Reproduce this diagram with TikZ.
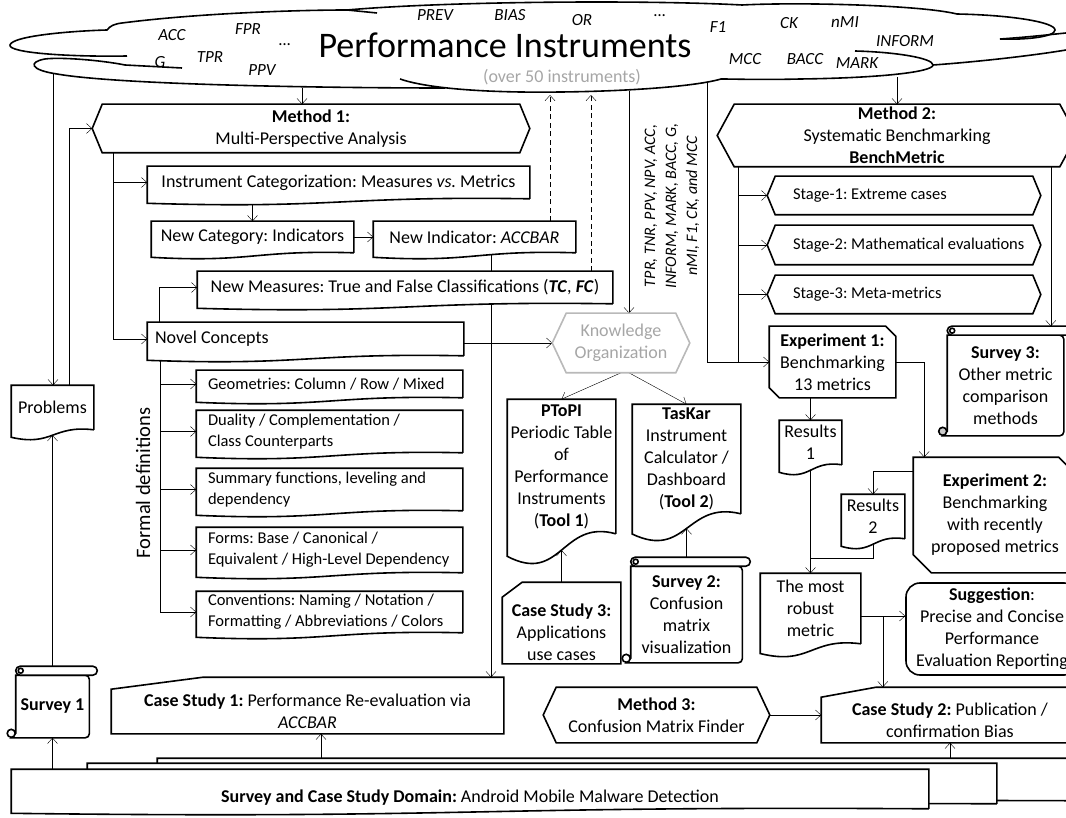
\documentclass[tikz,border=0pt]{standalone}
\usepackage{fontspec}
\setmainfont{Carlito}
\usetikzlibrary{arrows.meta,calc,backgrounds}
\frenchspacing
\newcommand{\bodyfont}{\fontsize{18}{22}\selectfont}
\newcommand{\smallfont}{\fontsize{16.5}{21}\selectfont}
\newcommand{\wordfont}{\fontsize{17}{20}\selectfont\itshape}
\newcommand{\titlefont}{\fontsize{36}{40}\selectfont}

\begin{document}
\begin{tikzpicture}[x=1pt, y=-1pt, line width=1.6pt,
    >={Straight Barb[length=5.5pt,width=10pt]},
    arrow/.style={->},
    dasharrow/.style={->, dash pattern=on 5pt off 3.5pt},
    box/.style={inner sep=0pt, align=center, font=\bodyfont},
    cloudword/.style={inner sep=0pt, font=\wordfont},
    docbox/.style={box, append after command={\pgfextra{%
      \draw[fill=white] (\tikzlastnode.south east) -- (\tikzlastnode.north east)
        -- (\tikzlastnode.north west) -- ([yshift={-0.75*#1*1pt}]\tikzlastnode.south west)
        .. controls ($(\tikzlastnode.south west)!0.5!(\tikzlastnode.south east)+(0,{1.7*#1})$)
        and ($(\tikzlastnode.south west)!0.5!(\tikzlastnode.south east)+(0,{-0.5*#1})$)
        .. (\tikzlastnode.south east);}}},
    hexbox/.style 2 args={box, append after command={\pgfextra{%
      \draw[#2, fill=white] (\tikzlastnode.west) -- ([xshift={#1*1pt}]\tikzlastnode.north west)
        -- ([xshift={-#1*1pt}]\tikzlastnode.north east) -- (\tikzlastnode.east)
        -- ([xshift={-#1*1pt}]\tikzlastnode.south east) -- ([xshift={#1*1pt}]\tikzlastnode.south west)
        -- cycle;}}},
    stagebox/.style={hexbox={8}{black}, font=\smallfont, text width=222pt, align=flush left},
    formbox/.style={docbox=6, font=\smallfont, minimum width=265, text width=243pt, align=flush left},
    cardbox/.style={box, append after command={\pgfextra{%
      \draw[fill=white] (\tikzlastnode.north west) -- ([xshift={-#1*1pt}]\tikzlastnode.north east)
        -- ([yshift={-#1*1pt}]\tikzlastnode.north east) -- (\tikzlastnode.south east)
        -- ([xshift={#1*1pt}]\tikzlastnode.south west) -- ([yshift={#1*1pt}]\tikzlastnode.south west)
        -- cycle;}}},
    casebox/.style={box, append after command={\pgfextra{%
      \draw[fill=white] (\tikzlastnode.south west) -- ([yshift=3pt]\tikzlastnode.north west)
        -- ([xshift=20pt,yshift=18pt]\tikzlastnode.north west) -- ([yshift=18pt]\tikzlastnode.north east)
        -- (\tikzlastnode.south east) -- cycle;}}},
    inputbox/.style 2 args={box, append after command={\pgfextra{%
      \draw[fill=white] (\tikzlastnode.south west) -- (\tikzlastnode.north west)
        -- ([xshift={#2*1pt},yshift={#1*1pt}]\tikzlastnode.north west)
        -- ([yshift={#1*1pt}]\tikzlastnode.north east) -- (\tikzlastnode.south east) -- cycle;}}},
    scrollbox/.style={box, append after command={\pgfextra{%
      \draw[fill=white] (\tikzlastnode.north west) -- ([yshift=4.5pt]\tikzlastnode.south west)
        -- ([xshift=-4.5pt]\tikzlastnode.south west) [rounded corners=4pt] -- (\tikzlastnode.south east)
        -- (\tikzlastnode.north east) [sharp corners] -- cycle;
      \draw[fill=white, rounded corners=4.5pt] ([yshift=9pt]\tikzlastnode.north west)
        rectangle ([xshift=8pt]\tikzlastnode.north east);
      \draw[fill=#1] ([xshift=-4.5pt,yshift=4.5pt]\tikzlastnode.south west) circle[radius=4pt];
      \draw ([xshift=5pt,yshift=4.5pt]\tikzlastnode.north west) circle[radius=2.5pt];}}},
    roundbox/.style={box, draw, fill=white, rounded corners=14pt}]

\useasboundingbox (0,0) rectangle (1066,818);

% the instrument cloud
\draw (127,56) .. controls (70,57) and (8,53) .. (10,45)
  .. controls (12,36) and (70,31) .. (107,30)
  .. controls (110,26) and (114,24) .. (122,23)
  .. controls (200,13) and (300,10) .. (347,10) -- (377,13);
\draw (347,10) .. controls (450,1) and (650,0) .. (742,5);
\draw (742,5) .. controls (800,2) and (920,5) .. (957,14)
  .. controls (1010,15) and (1055,22) .. (1055,30)
  .. controls (1055,37) and (1025,40) .. (1000,39);
\draw (1000,39) .. controls (1030,37) and (1055,34) .. (1066,33);
\draw (1066,50) .. controls (1030,56) and (975,62) .. (933,65);
\draw (855,51) .. controls (895,52) and (933,58) .. (933,65)
  .. controls (933,72) and (880,78) .. (800,79)
  .. controls (760,80) and (735,79) .. (721,79);
\draw (721,79) .. controls (690,88) and (600,93) .. (520,92)
  .. controls (460,91) and (420,86) .. (400,79);
\draw (445,88) .. controls (330,88) and (120,85) .. (57,74)
  .. controls (30,70) and (28,62) .. (45,59)
  .. controls (60,57) and (100,60) .. (125,65) -- (182,68);

\node[box, font=\titlefont] (title) at (505,45) {Performance Instruments};
\node[box, text=gray!70] (count) at (562,77) {(over 50 instruments)};
\foreach \w/\px/\py [count=\i] in {ACC/172/35, FPR/248/29, \dots/285/45, G/160/62,
    TPR/210/57, PPV/262/70, PREV/435/15, BIAS/510/15, OR/582/20, \dots/660/16,
    F1/718/27, CK/789/23, nMI/845/22, INFORM/905/41, MCC/745/59, BACC/805/59, MARK/857/63}
  \node[cloudword] (word\i) at (\px,\py) {\w};

\coordinate (c-prob) at (53,73);
\coordinate (c-m1) at (302,88);
\coordinate (c-ind) at (550,95);
\coordinate (c-meas) at (591,95);
\coordinate (c-know) at (629,91);
\coordinate (c-exp) at (707,82);
\coordinate (c-m2) at (897,77);

% left column
\node[docbox=10, minimum width=81, minimum height=43] (prob) at (52.5,407.5) {Problems};
\node[scrollbox=white, minimum width=72, minimum height=61] (sv1) at (52.5,706.5) {\textbf{Survey 1}};

% method 1 and its concepts
\node[hexbox={10}{black}, minimum width=436, minimum height=47] (m1) at (311,128.5)
  {\textbf{Method 1:}\\Multi-Perspective Analysis};
\node[docbox=6, minimum width=381, minimum height=31] (icat) at (338.5,182.5)
  {Instrument Categorization: Measures \textit{vs.} Metrics};
\node[docbox=6, minimum width=201, minimum height=30] (ncat) at (252.5,237) {New Category: Indicators};
\node[docbox=6, minimum width=201, minimum height=30] (nind) at (474.5,237) {New Indicator: \textit{ACCBAR}};
\node[docbox=6, minimum width=414, minimum height=31] (nmeas) at (405,287.5)
  {New Measures: True and False Classifications (\textbf{\textit{TC}}, \textbf{\textit{FC}})};
\node[docbox=6, minimum width=315, minimum height=32, text width=301pt, align=flush left] (novel) at (305.5,339)
  {Novel Concepts};

\node[formbox, minimum height=26] (geo) at (329.5,384) {Geometries: Column / Row / Mixed};
\node[formbox, minimum height=41] (dual) at (329.5,431.5) {Duality / Complementation /\\Class Counterparts};
\node[formbox, minimum height=41] (summ) at (329.5,489.5) {Summary functions, leveling and\\dependency};
\node[formbox, minimum height=44] (forms) at (329.5,550) {Forms: Base / Canonical /\\Equivalent / High-Level Dependency};
\node[formbox, minimum height=40] (conv) at (329.5,612) {Conventions: Naming / Notation /\\Formatting / Abbreviations / Colors};
\node[box, font=\fontsize{20.5}{24}\selectfont, rotate=90] (fdef) at (143,483) {Formal definitions};

\node[inputbox={12}{92}, minimum width=391, minimum height=43] (cs1) at (307.5,711.5)
  {\textbf{Case Study 1:} Performance Re-evaluation via\\\textit{ACCBAR}};

% knowledge organization and tools
\node[hexbox={14}{gray!55}, text=gray!70, minimum width=136, minimum height=58] (know) at (621,343)
  {Knowledge\\Organization};
\node[docbox=30, minimum width=107, minimum height=133] (ptopi) at (561.5,466.5)
  {\textbf{PToPI}\\Periodic Table\\of\\Performance\\Instruments\\(\textbf{Tool 1})};
\node[docbox=27, minimum width=107, minimum height=108] (taskar) at (686.5,459)
  {\textbf{TasKar}\\Instrument\\Calculator /\\Dashboard\\(\textbf{Tool 2})};
\node[casebox, minimum width=117, minimum height=62] (cs3) at (561.5,632)
  {\textbf{Case Study 3:}\\Applications\\use cases};
\node[scrollbox=white, minimum width=110, minimum height=95] (sv2) at (686.5,614.5)
  {\textbf{Survey 2:}\\Confusion\\matrix\\visualization};
\node[hexbox={13}{black}, minimum width=225, minimum height=54] (m3) at (656.5,715)
  {\textbf{Method 3:}\\Confusion Matrix Finder};
\node[box, font=\fontsize{16}{21}\selectfont\itshape, rotate=90] (mlist) at (672,206)
  {TPR, TNR, PPV, NPV, ACC,\\INFORM, MARK, BACC, G,\\nMI, F1, CK, and MCC};

% method 2 and benchmarking
\node[hexbox={17}{black}, minimum width=358, minimum height=61] (m2) at (897,135.5)
  {\textbf{Method 2:}\\Systematic Benchmarking\\\textbf{BenchMetric}};
\node[stagebox, minimum width=272, minimum height=37] (st1) at (904,195.5) {\mbox{Stage-1: Extreme cases}};
\node[stagebox, minimum width=272, minimum height=38] (st2) at (904,245) {\mbox{Stage-2: Mathematical evaluations}};
\node[stagebox, minimum width=272, minimum height=37] (st3) at (904,294.5) {\mbox{Stage-3: Meta-metrics}};
\node[cardbox=10, minimum width=125, minimum height=70] (exp1) at (832.5,362)
  {\textbf{Experiment 1:}\\Benchmarking\\13 metrics};
\node[scrollbox=gray!40, minimum width=115, minimum height=99] (sv3) at (1005.5,385.5)
  {\textbf{Survey 3:}\\Other metric\\comparison\\methods};
\node[docbox=10, minimum width=61, minimum height=43] (res1) at (810.5,442.5) {Results\\1};
\node[cardbox=18, minimum width=162, minimum height=114] (exp2) at (995,515)
  {\textbf{Experiment 2:}\\Benchmarking\\with recently\\proposed metrics};
\node[docbox=10, minimum width=62, minimum height=43] (res2) at (873,516.5) {Results\\2};
\node[docbox=13, minimum width=99, minimum height=69] (robust) at (810.5,608.5) {The most\\robust\\metric};
\node[roundbox, minimum width=172, minimum height=92] (sugg) at (992,629)
  {\textbf{Suggestion}:\\Precise and Concise\\Performance\\Evaluation Reporting};
\node[inputbox={10}{55}, minimum width=256, minimum height=44] (cs2) at (950,720)
  {\textbf{Case Study 2:} Publication /\\confirmation Bias};

% stacked domain sheets
\node[docbox=4, minimum width=932, minimum height=41] (domB) at (624,779.5) {};
\node[docbox=4, minimum width=908, minimum height=39] (domM) at (542,783.5) {};
\node[docbox=6, minimum width=916, minimum height=38, text height=27pt, text depth=0pt] (domF) at (470,789)
  {\textbf{Survey and Case Study Domain:} Android Mobile Malware Detection};

\begin{scope}[on background layer]
  % left column
  \draw[arrow] (c-prob) -- (c-prob |- prob.north);
  \draw[arrow] ([xshift=16.5pt]prob.north) |- (m1.west);
  \draw[arrow] (sv1.north) -- ([yshift=-5.4pt]prob.south);
  \draw[arrow] (domF.north -| sv1.south) -- (sv1.south);
  % method 1
  \draw[arrow] (c-m1) -- (c-m1 |- m1.north);
  \coordinate (m1spine) at ([xshift=21pt]m1.south west);
  \draw[arrow] (m1spine) |- (novel.west);
  \draw[arrow] (m1spine |- icat.west) -- (icat.west);
  \draw[arrow] (ncat.north |- icat.south) -- (ncat.north);
  \draw[arrow] (ncat.east) -- (nind.west);
  \draw[dasharrow] (c-ind |- nind.north) -- (c-ind);
  \draw[dasharrow] (c-meas |- nmeas.north) -- (c-meas);
  \coordinate (indx) at ([xshift=16.5pt]nind.south);
  \coordinate (cs1top) at ([yshift=12pt]cs1.north);
  \draw[arrow] (indx) -- (indx |- cs1top);
  \draw[arrow] ([xshift=12pt]novel.north west) |- (nmeas.west);
  \draw[arrow] (novel.east |- know.west) -- (know.west);
  \coordinate (fspine) at ([xshift=13pt]novel.south west);
  \draw (fspine) -- (fspine |- conv.west);
  \foreach \b in {geo,dual,summ,forms,conv}
    \draw[arrow] (fspine |- \b.west) -- (\b.west);
  % knowledge and tools
  \draw[arrow] (c-know) -- (c-know |- know.north);
  \draw[arrow] (know.south) -- (ptopi.north);
  \draw[arrow] ([xshift=8pt]know.south) -- (taskar.north);
  \draw[arrow] (cs3.north) -- ([yshift=-16.3pt]ptopi.south);
  \draw[arrow] (sv2.north) -- ([yshift=-14.7pt]taskar.south);
  % method 2
  \draw[arrow] (c-m2) -- (c-m2 |- m2.north);
  \coordinate (m2spine) at ([xshift=21pt]m2.south west);
  \draw (m2spine) -- (m2spine |- exp1.west);
  \foreach \s in {st1,st2,st3}
    \draw[arrow] (m2spine |- \s.west) -- (\s.west);
  \draw[arrow] (c-exp) |- (exp1.west);
  \coordinate (m2r) at ([xshift=-26pt]m2.south east);
  \coordinate (sv3top) at ([yshift=9pt]sv3.north);
  \draw[arrow] (m2r) -- (m2r |- sv3top);
  % experiments and results
  \draw[arrow] (res1.north |- exp1.south) -- (res1.north);
  \draw[arrow] (exp1.east) -| ([xshift=11pt]exp2.north west);
  \draw[arrow] ([yshift=-14pt]exp2.north west) -| (res2.north);
  \draw[arrow] (res1.south) -- (robust.north);
  \coordinate (mrg) at ([yshift=15pt]robust.north);
  \draw (res2.south) |- (mrg);
  \coordinate (rob) at ([yshift=-7.5pt]robust.east);
  \draw[arrow] (rob) -- (rob -| sugg.west);
  \coordinate (robx) at ([xshift=22pt]rob);
  \coordinate (cs2top) at ([yshift=10pt]cs2.north);
  \draw[arrow] (robx) -- (robx |- cs2top);
  \draw[arrow] (m3.east) -- (m3.east -| cs2.west);
  % domain to case studies
  \coordinate (cs1in) at ([xshift=13.5pt]cs1.south);
  \draw[arrow] (cs1in |- domB.north) -- (cs1in);
  \draw[arrow] (cs2.south |- domB.north) -- (cs2.south);
\end{scope}
\end{tikzpicture}
\end{document}
